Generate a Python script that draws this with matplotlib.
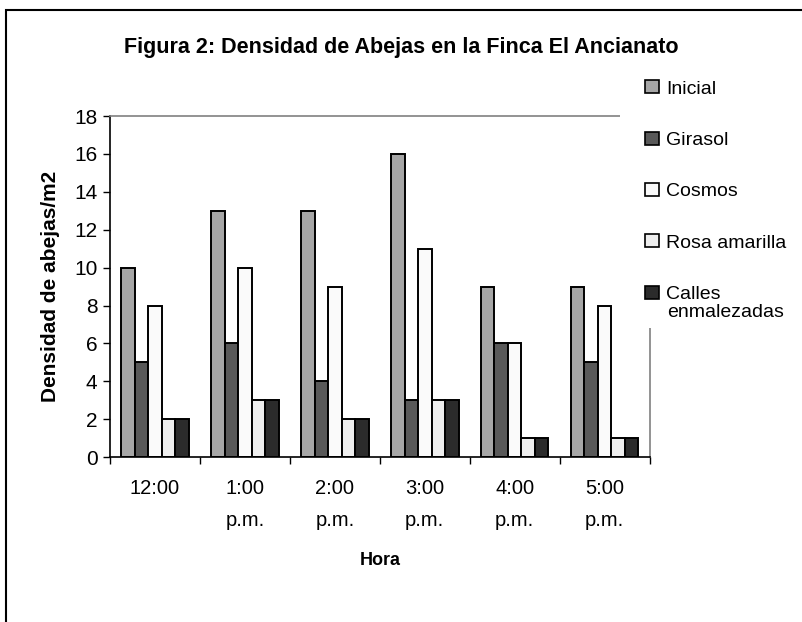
import matplotlib.pyplot as plt
import numpy as np
from matplotlib.patches import Rectangle

plt.rcParams["font.family"] = ["Liberation Sans", "DejaVu Sans"]

horas = ["12:00", "1:00\np.m.", "2:00\np.m.", "3:00\np.m.", "4:00\np.m.", "5:00\np.m."]
series = ["Inicial", "Girasol", "Cosmos", "Rosa amarilla", "Calles"]
inicial = [10, 13, 13, 16, 9, 9]
girasol = [5, 6, 4, 3, 6, 5]
cosmos = [8, 10, 9, 11, 6, 8]
rosa_amarilla = [2, 3, 2, 3, 1, 1]
calles = [2, 3, 2, 3, 1, 1]
valores = [inicial, girasol, cosmos, rosa_amarilla, calles]
colores = ["#a6a6a6", "#595959", "#fafafa", "#eeeeee", "#2b2b2b"]

fig = plt.figure(figsize=(8.03, 6.22), dpi=100)
ax = fig.add_axes([0.137, 0.265, 0.672, 0.5485])

x = np.arange(len(horas))
w = 0.15
for i, (nombre, vals, c) in enumerate(zip(series, valores, colores)):
    ax.bar(x + (i - 2) * w, vals, w, color=c, edgecolor="black", linewidth=1.4, label=nombre)

ax.set_xlim(-0.5, len(horas) - 0.5)
ax.set_ylim(0, 18)
ax.set_yticks(range(0, 19, 2))
ax.set_xticks(x, horas)
ax.set_xticks(np.arange(-0.5, len(horas)), minor=True)
ax.tick_params(axis="x", which="major", length=0, pad=16, labelsize=14.5)
ax.tick_params(axis="x", which="minor", length=5, width=1, direction="out")
ax.tick_params(axis="y", length=5, width=1, direction="out", labelsize=15, pad=4)
for lab in ax.get_xticklabels():
    lab.set_linespacing(1.85)
    lab.set_verticalalignment("top")

ax.spines["left"].set_linewidth(1.2)
ax.spines["bottom"].set_linewidth(1.2)
for s in ["top", "right"]:
    ax.spines[s].set_color("#808080")
    ax.spines[s].set_linewidth(1.2)

ax.set_ylabel("Densidad de abejas/m2", fontsize=15, fontweight="bold", labelpad=10)
ax.set_xlabel("Hora", fontsize=13, fontweight="bold", labelpad=16)

leg = fig.legend(loc="upper left", bbox_to_anchor=(0.772, 0.9116), frameon=True,
                 fontsize=14, handlelength=0.72, handleheight=0.65, handletextpad=0.36,
                 labelspacing=1.75, borderpad=1.3, borderaxespad=0, fancybox=False)
leg.get_frame().set_edgecolor("none")
leg.get_frame().set_facecolor("white")
leg.get_frame().set_alpha(1)
for h in leg.legend_handles:
    h.set_linewidth(1.2)
fig.text(0.8306, 0.4968, "enmalezadas", ha="left", va="center", fontsize=14, zorder=6)

fig.text(0.5, 0.924, "Figura 2: Densidad de Abejas en la Finca El Ancianato",
         ha="center", va="center", fontsize=15.5, fontweight="bold", zorder=10)

fig.patches.append(Rectangle((0.007, -0.1), 1.2, 1.084, transform=fig.transFigure,
                             fill=False, edgecolor="black", linewidth=1.5))

fig.savefig("out.png", dpi=100)
